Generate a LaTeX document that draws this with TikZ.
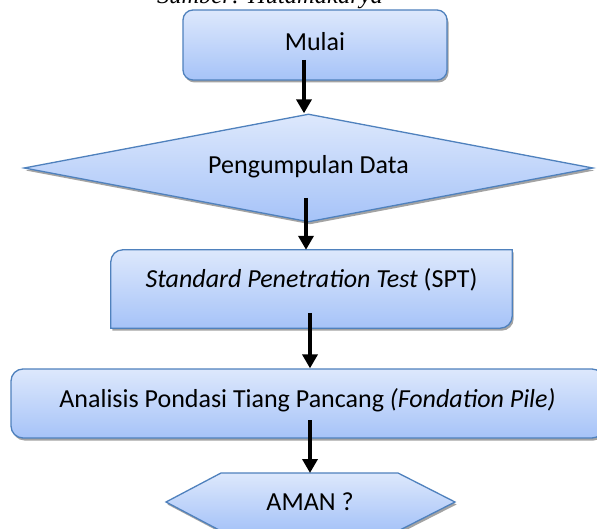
\documentclass[tikz,border=0pt]{standalone}
\usepackage{fontspec}
\setmainfont{Carlito}
\newfontfamily\capfont{Liberation Serif}
\usetikzlibrary{shapes.geometric,shadows,arrows.meta,calc}
\definecolor{bordc}{HTML}{4F81BD}
\definecolor{topc}{HTML}{DDE8FC}
\definecolor{botc}{HTML}{A6C3F8}
\tikzset{
 shapebox/.style={draw=bordc, line width=1.3pt, top color=topc, bottom color=botc,
   drop shadow={shadow xshift=1.5pt, shadow yshift=-2.5pt, fill=black!60, opacity=0.6}},
 lbl/.style={font=\fontsize{26}{30}\selectfont, inner sep=0pt},
 arr/.style={line width=3.5pt, -{Triangle[width=15pt,length=14pt]}},
}
\begin{document}
\begin{tikzpicture}[x=1pt,y=-1pt]
\useasboundingbox (0,0) rectangle (597,529);
\clip (0,0) rectangle (597,529);
\fill[white] (0,0) rectangle (597,529);
% caption (cut off at top, as in the source)
\node[font=\capfont\itshape\fontsize{24.5}{28}\selectfont, anchor=base, inner sep=0pt] (src) at (270,4) {Sumber: Hutamakarya};
% Mulai
\node[shapebox, rounded corners=10pt, minimum width=264pt, minimum height=70pt, inner sep=0pt] (mulaibox) at (315,45) {};
\node[lbl] (mulai) at (315,42) {Mulai};
% Diamond
\node[shapebox, diamond, aspect=5.27, minimum width=569pt, minimum height=108pt, inner sep=0pt] (diam) at (308.5,168) {};
\node[lbl] (pd) at (308.5,167) {Pengumpulan Data};
% SPT box (diagonal rounded corners)
\node[inner sep=0pt, minimum width=401pt, minimum height=78pt] (sptbox) at (311.5,289) {};
\path[shapebox] (sptbox.north east) -- (sptbox.east)
  {[rounded corners=12pt] -- (sptbox.south east) -- (sptbox.south)}
  -- (sptbox.south west) -- (sptbox.west)
  {[rounded corners=12pt] -- (sptbox.north west) -- (sptbox.north)} -- cycle;
\node[lbl] (spt) at (311.5,280) {\textit{Standard Penetration Test} (SPT)};
% Analisis box
\node[shapebox, rounded corners=12pt, minimum width=593pt, minimum height=69pt, inner sep=0pt] (anbox) at (307.5,403.5) {};
\node[lbl] (an) at (307.5,400) {Analisis Pondasi Tiang Pancang \textit{(Fondation Pile)}};
% AMAN hexagon
\coordinate (hexc) at (310,502);
\path[shapebox] ($(hexc)+(-144,0)$) -- ($(hexc)+(-89,-29)$) -- ($(hexc)+(88,-29)$) -- ($(hexc)+(145,0)$)
  -- ($(hexc)+(88,29)$) -- ($(hexc)+(-89,29)$) -- cycle;
\node[lbl] (aman) at (310,502) {AMAN ?};
\coordinate (amantop) at ($(hexc)+(0,-29)$);
% arrows
\draw[arr] ([xshift=-11pt,yshift=-15pt]mulaibox.center) -- ([xshift=-4.5pt]diam.north);
\draw[arr] ([xshift=-2.5pt,yshift=-30pt]diam.center) -- ([xshift=-5.5pt]sptbox.north);
\draw[arr] ([xshift=-1.5pt,yshift=-24pt]sptbox.center) -- ([xshift=2.5pt]anbox.north);
\draw[arr] ([xshift=2.5pt,yshift=-16.5pt]anbox.center) -- (amantop);
\end{tikzpicture}
\end{document}
